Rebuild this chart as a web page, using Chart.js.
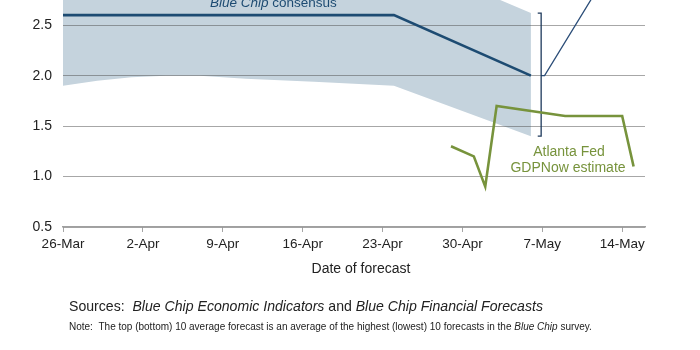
<!DOCTYPE html>
<html>
<head>
<meta charset="utf-8">
<script src="https://cdn.jsdelivr.net/npm/chart.js@4/dist/chart.umd.min.js"></script>
<style>
  html, body { margin: 0; padding: 0; background: #ffffff; }
  #wrap { width: 700px; height: 350px; }
</style>
</head>
<body>
<div id="wrap"><canvas id="chart" width="700" height="350"></canvas></div>
<script>
// Horizontal axis: days counted from 26 March
const tickDays = [0, 7, 14, 21, 28, 35, 42, 49];
const tickLabels = ['26-Mar', '2-Apr', '9-Apr', '16-Apr', '23-Apr', '30-Apr', '7-May', '14-May'];
const yTicks = [0.5, 1.0, 1.5, 2.0, 2.5];

// Range of the top 10 / bottom 10 average forecasts
const bandDays = [0, 3, 6, 9, 12, 16, 22, 29, 41];
const bandTop = [3.2, 3.2, 3.2, 3.2, 3.2, 3.2, 3.2, 3.2, 2.62];
const bandBottom = [1.90, 1.95, 1.985, 2.00, 2.00, 1.97, 1.94, 1.90, 1.40];

// Blue Chip consensus
const consensusDays = [0, 29, 41];
const consensusValues = [2.6, 2.6, 2.0];

// Atlanta Fed GDPNow estimate
const gdpNowDays = [34, 36, 37, 38, 44, 49, 50];
const gdpNowValues = [1.3, 1.2, 0.9, 1.7, 1.6, 1.6, 1.1];

// Bracket marking the forecast range on the latest survey date, and a leader line
const bracketDays = [41.6, 41.9, 41.9, 41.6];
const leaderDays = [41.9, 42.2, 47.6];
const leaderValues = [2.0, 2.0, 3.0];

const lastBand = bandDays.length - 1;
const bracketValues = [bandTop[lastBand], bandTop[lastBand], bandBottom[lastBand], bandBottom[lastBand]];

const pts = (xs, ys) => xs.map((x, i) => ({ x: x, y: ys[i] }));

const FONT = "'Liberation Sans', Arial, sans-serif";
const BAND = '#c5d3dd';
const NAVY = '#1d4b72';
const GREEN = '#77933c';
const TEXT = '#222222';

// Free-standing labels and source notes
const notesPlugin = {
  id: 'notes',
  afterDraw(chart) {
    const c = chart.ctx;
    const runs = (parts, x, y, size, color) => {
      let cx = x;
      parts.forEach(([txt, italic]) => {
        c.font = (italic ? 'italic ' : '') + size + 'px ' + FONT;
        c.fillStyle = color;
        c.fillText(txt, cx, y);
        cx += c.measureText(txt).width;
      });
    };
    c.save();
    c.textBaseline = 'alphabetic';
    c.textAlign = 'left';
    runs([['Blue Chip', true], [' consensus', false]], 210, 7, 13.5, NAVY);

    c.textAlign = 'center';
    c.textBaseline = 'middle';
    c.font = '14px ' + FONT;
    c.fillStyle = GREEN;
    c.fillText('Atlanta Fed', 569, 152);
    c.fillText('GDPNow estimate', 568, 168);

    c.fillStyle = TEXT;
    c.fillText('Date of forecast', 361, 269);

    c.textAlign = 'left';
    runs([['Sources:  ', false], ['Blue Chip Economic Indicators', true], [' and ', false],
          ['Blue Chip Financial Forecasts', true]], 69, 307, 14.1, TEXT);
    runs([['Note:  The top (bottom) 10 average forecast is an average of the highest (lowest) 10 forecasts in the ', false],
          ['Blue Chip', true], [' survey.', false]], 69, 327, 10, TEXT);
    c.restore();
  }
};

new Chart(document.getElementById('chart'), {
  type: 'line',
  data: {
    datasets: [
      {
        label: 'Top 10 average',
        data: pts(bandDays, bandTop),
        borderColor: 'transparent',
        borderWidth: 0,
        pointRadius: 0,
        backgroundColor: BAND,
        fill: '+1'
      },
      {
        label: 'Bottom 10 average',
        data: pts(bandDays, bandBottom),
        borderColor: 'transparent',
        borderWidth: 0,
        pointRadius: 0,
        tension: 0,
        fill: false
      },
      {
        label: 'Blue Chip consensus',
        data: pts(consensusDays, consensusValues),
        borderColor: NAVY,
        borderWidth: 2.6,
        pointRadius: 0,
        fill: false
      },
      {
        label: 'Atlanta Fed GDPNow estimate',
        data: pts(gdpNowDays, gdpNowValues),
        borderColor: GREEN,
        borderWidth: 2.6,
        pointRadius: 0,
        fill: false
      },
      {
        label: 'Range bracket',
        data: pts(bracketDays, bracketValues),
        borderColor: '#1f3a5c',
        borderWidth: 1.3,
        pointRadius: 0,
        fill: false
      },
      {
        label: 'Leader',
        data: pts(leaderDays, leaderValues),
        borderColor: '#2b4d78',
        borderWidth: 1.3,
        pointRadius: 0,
        fill: false
      }
    ]
  },
  options: {
    responsive: false,
    animation: false,
    events: [],
    layout: { padding: { left: 0, right: 55, top: 0, bottom: 0 } },
    plugins: {
      legend: { display: false },
      tooltip: { enabled: false },
      filler: { drawTime: 'beforeDraw' }
    },
    scales: {
      x: {
        type: 'linear',
        min: 0,
        max: 51,
        afterBuildTicks: (s) => { s.ticks = tickDays.map(v => ({ value: v })); },
        afterFit: (s) => { s.height = 123; s.paddingLeft = 0; s.paddingRight = 0; },
        grid: { drawOnChartArea: false, drawTicks: true, tickLength: 5, color: '#a6a6a6', lineWidth: 1 },
        border: { display: true, color: '#a0a0a0', width: 1.5 },
        ticks: {
          autoSkip: false,
          maxRotation: 0,
          padding: 4,
          color: TEXT,
          font: { family: FONT, size: 13.5 },
          callback: (v) => { const i = tickDays.indexOf(v); return i >= 0 ? tickLabels[i] : ''; }
        }
      },
      y: {
        type: 'linear',
        min: 0.5,
        max: 2.75,
        afterBuildTicks: (s) => { s.ticks = yTicks.map(v => ({ value: v })); },
        afterFit: (s) => { s.width = 63; s.paddingTop = 0; s.paddingBottom = 0; },
        grid: { drawTicks: false, color: 'rgba(80,80,80,0.5)', lineWidth: 1 },
        border: { display: false },
        ticks: {
          padding: 11,
          color: TEXT,
          font: { family: FONT, size: 14 },
          callback: (v) => v.toFixed(1)
        }
      }
    }
  },
  plugins: [notesPlugin]
});
</script>
</body>
</html>
